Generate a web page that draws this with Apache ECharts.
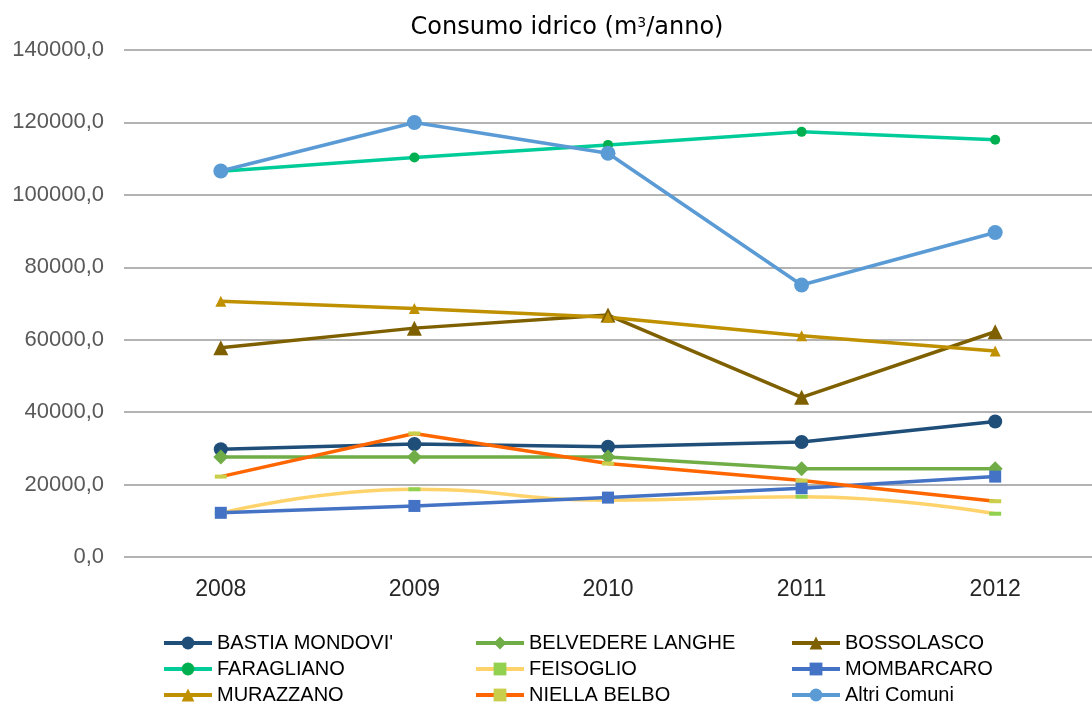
<!DOCTYPE html>
<html lang="it">
<head>
    <meta charset="UTF-8">
    <title>Consumo idrico</title>
    <script src="https://cdn.jsdelivr.net/npm/echarts@6.0.0/dist/echarts.min.js"></script>
    <style>
        html, body { margin: 0; padding: 0; background: #fff; }
        #chart { width: 1092px; height: 703px; }
    </style>
</head>
<body>
    <div id="chart"></div>
    <script>
        // dati
        const anni = ['2008', '2009', '2010', '2011', '2012'];
        const bastiaMondovi = [29750, 31200, 30450, 31750, 37400];
        const belvedereLanghe = [27600, 27600, 27600, 24400, 24400];
        const bossolasco = [57800, 63200, 66800, 44100, 62200];
        const faragliano = [106500, 110300, 113800, 117400, 115200];
        const feisoglio = [12100, 18700, 15700, 16650, 11950];
        const mombarcaro = [12200, 14100, 16400, 19000, 22200];
        const murazzano = [70600, 68600, 66200, 61100, 56900];
        const niellaBelbo = [22200, 34100, 25800, 21100, 15400];
        const altriComuni = [106600, 120000, 111500, 75100, 89600];

        const chart = echarts.init(document.getElementById('chart'));
        const font = '"Liberation Sans", Arial, sans-serif';

        function serie(name, data, color, symbol, size, markerColor, smooth) {
            return {
                name: name,
                type: 'line',
                data: data,
                smooth: !!smooth,
                symbol: symbol,
                symbolSize: size,
                lineStyle: { color: color, width: 3.5 },
                itemStyle: { color: markerColor || color, borderWidth: 0 }
            };
        }

        const series = [
            serie("BASTIA MONDOVI'", bastiaMondovi, '#1F4E79', 'circle', 14),
            serie('BELVEDERE LANGHE', belvedereLanghe, '#70AD47', 'diamond', 15),
            serie('BOSSOLASCO', bossolasco, '#7F6000', 'triangle', 15),
            serie('FARAGLIANO', faragliano, '#00CC99', 'circle', 10, '#00B050'),
            serie('FEISOGLIO', feisoglio, '#FFD36B', 'rect', [12, 4], '#92D050', true),
            serie('MOMBARCARO', mombarcaro, '#4472C4', 'rect', 12),
            serie('MURAZZANO', murazzano, '#BF9000', 'triangle', 11),
            serie('NIELLA BELBO', niellaBelbo, '#FF6600', 'rect', [12, 4], '#C9CF4A'),
            serie('Altri Comuni', altriComuni, '#5B9BD5', 'circle', 15)
        ];

        function legenda(nomi, left) {
            return {
                orient: 'vertical',
                left: left,
                top: 628,
                height: 80,
                data: nomi,
                itemWidth: 48,
                itemHeight: 16,
                itemGap: 6,
                selectedMode: false,
                lineStyle: { width: 4 },
                textStyle: { fontFamily: font, fontSize: 20, color: '#000', lineHeight: 20 }
            };
        }

        const option = {
            animation: false,
            title: {
                text: 'Consumo idrico (m{sup|3}/anno)',
                left: 562,
                textAlign: 'center',
                top: 11,
                textStyle: {
                    fontFamily: '"DejaVu Sans", sans-serif',
                    fontSize: 24,
                    fontWeight: 'normal',
                    color: '#000',
                    rich: {
                        sup: { fontFamily: '"DejaVu Sans", sans-serif', fontSize: 14, color: '#000', verticalAlign: 'top', padding: [0, 0, 10, 0] }
                    }
                }
            },
            legend: [
                legenda(["BASTIA MONDOVI'", 'FARAGLIANO', 'MURAZZANO'], 157),
                legenda(['BELVEDERE LANGHE', 'FEISOGLIO', 'NIELLA BELBO'], 469),
                legenda(['BOSSOLASCO', 'MOMBARCARO', 'Altri Comuni'], 785)
            ],
            grid: { left: 124, top: 50, width: 980, bottom: 146 },
            xAxis: {
                type: 'category',
                data: anni,
                boundaryGap: true,
                axisLine: { show: false },
                axisTick: { show: false },
                axisLabel: { fontFamily: font, fontSize: 23, color: '#262626', margin: 21 }
            },
            yAxis: {
                type: 'value',
                min: 0,
                max: 140000,
                interval: 20000,
                axisLine: { show: false },
                axisTick: { show: false },
                splitLine: { lineStyle: { color: '#B3B3B3', width: 2 } },
                axisLabel: {
                    fontFamily: font,
                    fontSize: 22,
                    color: '#595959',
                    margin: 20,
                    formatter: function (v) { return v.toFixed(1).replace('.', ','); }
                }
            },
            series: series
        };

        chart.setOption(option);
    </script>
</body>
</html>
